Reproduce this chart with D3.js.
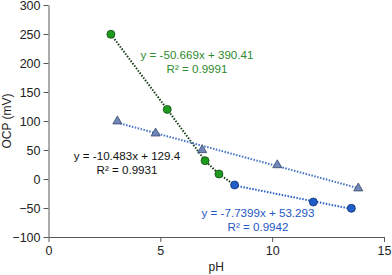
<!DOCTYPE html>
<html>
<head>
<meta charset="utf-8">
<script src="https://cdn.jsdelivr.net/npm/d3@7"></script>
<style>
  html, body { margin: 0; padding: 0; background: #fff; }
  svg text { font-family: Arial, "Liberation Sans", sans-serif; }
</style>
</head>
<body>
<svg id="chart" width="392" height="275"></svg>
<script>
// green series (acidic branch)
const greenPH = [2.79, 5.31, 7.0, 7.62];
const greenOCP = [249.5, 120, 31.6, 8.6];
// blue series (alkaline branch)
const bluePH = [8.32, 11.84, 13.54];
const blueOCP = [-10.3, -39.7, -50.5];
// triangles
const triPH = [3.08, 4.79, 6.87, 10.23, 13.85];
const triOCP = [99.5, 78.7, 50, 24, -16];

const xTicks = [0, 5, 10, 15];
const yTicks = [-100, -50, 0, 50, 100, 150, 200, 250, 300];

const triFit = {slope: -10.483, intercept: 129.4};
const blueFit = {slope: -7.7399, intercept: 53.293};

const svg = d3.select('#chart');
const x = d3.scaleLinear().domain([0, 15]).range([48.5, 384]);
const y = d3.scaleLinear().domain([-100, 300]).range([237, 5]);

const axisColor = '#595959';

// axes
const xAxis = svg.append('g')
    .attr('transform', `translate(0,${y(-100)})`)
    .call(d3.axisBottom(x).tickValues(xTicks).tickSize(5).tickSizeOuter(0).tickPadding(4));
const yAxis = svg.append('g')
    .attr('transform', `translate(${x(0)},0)`)
    .call(d3.axisLeft(y).tickValues(yTicks).tickSize(5).tickSizeOuter(0).tickPadding(3));

[xAxis, yAxis].forEach((g) => {
    g.selectAll('path, line').attr('stroke', axisColor).attr('stroke-width', 1);
    g.selectAll('text').attr('fill', '#222').attr('font-size', 12.5)
        .attr('font-family', 'Arial, "Liberation Sans", sans-serif');
});

// connecting dotted line for green branch (runs into first blue point)
const greenLine = d3.line().x((d) => x(d[0])).y((d) => y(d[1]));
const greenPath = greenPH.map((p, i) => [p, greenOCP[i]]).concat([[bluePH[0], blueOCP[0]]]);
svg.append('path')
    .attr('d', greenLine(greenPath))
    .attr('fill', 'none')
    .attr('stroke', '#1a3f1a')
    .attr('stroke-width', 2)
    .attr('stroke-dasharray', '1.5,1.5');

// triangle trendline
svg.append('line')
    .attr('x1', x(triPH[0])).attr('y1', y(triFit.slope * triPH[0] + triFit.intercept))
    .attr('x2', x(triPH[triPH.length - 1])).attr('y2', y(triFit.slope * triPH[triPH.length - 1] + triFit.intercept))
    .attr('stroke', '#4472c4')
    .attr('stroke-width', 2)
    .attr('stroke-dasharray', '1.5,1.5');

// blue trendline
svg.append('line')
    .attr('x1', x(bluePH[0])).attr('y1', y(blueFit.slope * bluePH[0] + blueFit.intercept))
    .attr('x2', x(bluePH[bluePH.length - 1])).attr('y2', y(blueFit.slope * bluePH[bluePH.length - 1] + blueFit.intercept))
    .attr('stroke', '#2a5fc7')
    .attr('stroke-width', 2)
    .attr('stroke-dasharray', '1.5,1.5');

// markers
svg.append('g').selectAll('path')
    .data(triPH.map((p, i) => [p, triOCP[i]]))
    .join('path')
    .attr('d', d3.symbol(d3.symbolTriangle, 36)())
    .attr('transform', (d) => `translate(${x(d[0])},${y(d[1])})`)
    .attr('fill', '#6f86b8')
    .attr('stroke', '#3a4a6a')
    .attr('stroke-width', 0.8);

svg.append('g').selectAll('circle')
    .data(greenPH.map((p, i) => [p, greenOCP[i]]))
    .join('circle')
    .attr('cx', (d) => x(d[0])).attr('cy', (d) => y(d[1]))
    .attr('r', 4)
    .attr('fill', '#1e9b1e')
    .attr('stroke', '#134d13')
    .attr('stroke-width', 0.8);

svg.append('g').selectAll('circle')
    .data(bluePH.map((p, i) => [p, blueOCP[i]]))
    .join('circle')
    .attr('cx', (d) => x(d[0])).attr('cy', (d) => y(d[1]))
    .attr('r', 4)
    .attr('fill', '#1f5dc9')
    .attr('stroke', '#12336e')
    .attr('stroke-width', 0.8);

// equation labels
const labels = [
    {lines: ['y = -50.669x + 390.41', 'R² = 0.9991'], x: 197, y: 59, color: '#2e8b2e'},
    {lines: ['y = -10.483x + 129.4', 'R² = 0.9931'], x: 127, y: 160, color: '#111'},
    {lines: ['y = -7.7399x + 53.293', 'R² = 0.9942'], x: 258, y: 217, color: '#2457c5'}
];
labels.forEach((l) => {
    const t = svg.append('text')
        .attr('text-anchor', 'middle')
        .attr('font-size', 11.6)
        .attr('fill', l.color);
    l.lines.forEach((s, i) => {
        t.append('tspan').attr('x', l.x).attr('y', l.y + i * 14).text(s);
    });
});

// axis titles
svg.append('text')
    .attr('transform', `translate(11,${(y(300) + y(-100)) / 2}) rotate(-90)`)
    .attr('text-anchor', 'middle')
    .attr('font-size', 12)
    .attr('fill', '#222')
    .text('OCP (mV)');
svg.append('text')
    .attr('x', (x(0) + x(15)) / 2)
    .attr('y', 271)
    .attr('text-anchor', 'middle')
    .attr('font-size', 12)
    .attr('fill', '#222')
    .text('pH');
</script>
</body>
</html>
